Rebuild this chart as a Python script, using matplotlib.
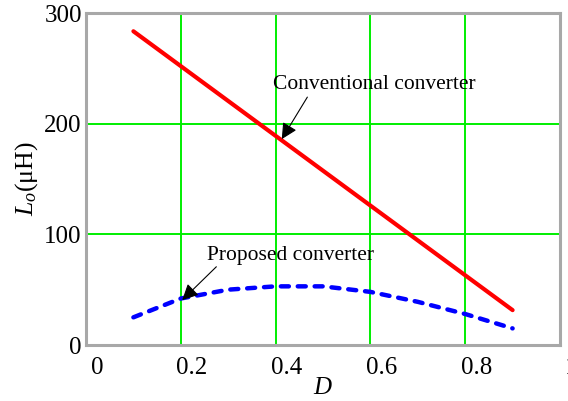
import matplotlib
matplotlib.use("Agg")
import matplotlib.pyplot as plt
from matplotlib.transforms import ScaledTranslation

# Data
D_conv = [0.1, 0.2, 0.3, 0.4, 0.5, 0.6, 0.7, 0.8, 0.9]
L_conv = [283.5, 252, 220.5, 189, 157.5, 126, 94.5, 63, 31.5]
D_prop = [0.1, 0.2, 0.3, 0.4, 0.5, 0.6, 0.7, 0.8, 0.9]
L_prop = [25, 42, 50, 53, 53, 48, 39, 28, 15]
x_ticks = [0, 0.2, 0.4, 0.6, 0.8, 1.0]
x_tick_labels = ["0", "0.2", "0.4", "0.6", "0.8", "1"]
y_ticks = [0, 100, 200, 300]
y_tick_labels = ["0", "100", "200", "300"]

plt.rcParams['font.family'] = ['Liberation Serif', 'DejaVu Serif']
plt.rcParams['mathtext.fontset'] = 'custom'
plt.rcParams['mathtext.it'] = 'Liberation Serif:italic'
plt.rcParams['mathtext.rm'] = 'Liberation Serif'

fig = plt.figure(figsize=(5.68, 4.01), dpi=100)
ax = fig.add_axes([86/568, 1 - 345/401, (560-86)/568, (345-13)/401])

ax.plot(D_conv, L_conv, color='#FF0000', lw=3.0, solid_capstyle='round', zorder=3)
ax.plot(D_prop, L_prop, color='#0000FF', lw=3.2, linestyle=(0, (1.8, 2.0)),
        dash_capstyle='round', zorder=3)

ax.set_xlim(0, 1)
ax.set_ylim(0, 300)
ax.set_xticks(x_ticks)
ax.set_xticklabels(x_tick_labels)
ax.set_yticks(y_ticks)
ax.set_yticklabels(y_tick_labels)
ax.tick_params(axis='both', length=0, labelsize=18)
ax.tick_params(axis='x', pad=9)
ax.tick_params(axis='y', pad=3)

for v in [0.2, 0.4, 0.6, 0.8]:
    ax.axvline(v, color='#00EE00', lw=1.4, zorder=1)
for v in [100, 200]:
    ax.axhline(v, color='#00EE00', lw=1.4, zorder=1)

for s in ax.spines.values():
    s.set_color('#A8A8A8')
    s.set_linewidth(2.2)

offset = ScaledTranslation(11/100, 0, fig.dpi_scale_trans)
for lab in ax.get_xticklabels():
    lab.set_transform(lab.get_transform() + offset)

ax.set_xlabel(r'$D$', fontsize=18, labelpad=-2)
ax.set_ylabel(r'$L_o$(μH)', fontsize=18.5, labelpad=3)

arrow = dict(arrowstyle='-|>', color='black', lw=0.8, mutation_scale=24,
             shrinkA=0, shrinkB=0)
ax.annotate('', xy=(0.413, 186), xytext=(0.467, 224), arrowprops=arrow)
ax.text(0.394, 235, 'Conventional converter', fontsize=15.5, ha='left', va='center')
ax.annotate('', xy=(0.203, 40.6), xytext=(0.275, 70.7), arrowprops=arrow)
ax.text(0.255, 81.3, 'Proposed converter', fontsize=15.5, ha='left', va='center')

fig.savefig('out.png', dpi=100)
